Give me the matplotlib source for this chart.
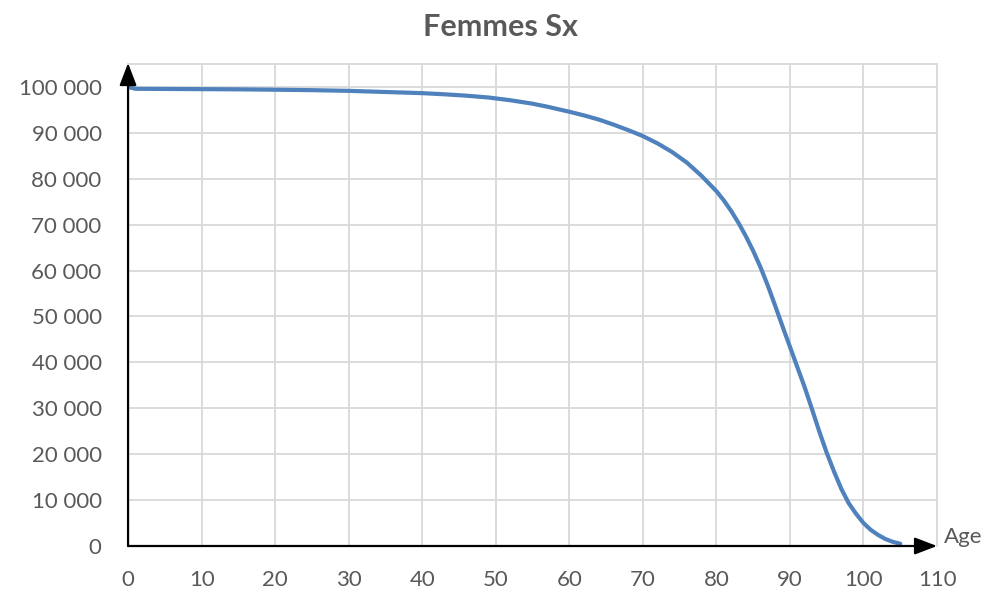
import numpy as np
import matplotlib
matplotlib.use("Agg")
import matplotlib.pyplot as plt
from matplotlib.ticker import FuncFormatter

# survivors (Sx) by age
ages = [0, 1, 5, 10, 15, 20, 25, 30, 35, 40, 43, 46, 49, 52, 55, 57, 60, 62, 64, 66,
        68, 70, 72, 74, 76, 78, 80, 81, 82, 83, 84, 85, 86, 87, 88, 89, 90, 91, 92,
        93, 94, 95, 96, 97, 98, 99, 100, 101, 102, 103, 104, 105]
survivors = [100000, 99600, 99560, 99520, 99480, 99400, 99300, 99150, 98900, 98650,
             98400, 98100, 97700, 97100, 96350, 95700, 94600, 93800, 92900, 91800,
             90600, 89300, 87700, 85800, 83500, 80600, 77300, 75300, 73000, 70400,
             67500, 64300, 60700, 56700, 52300, 47800, 43400, 39000, 34600, 29800,
             24900, 20300, 16200, 12400, 9300, 7000, 5000, 3500, 2400, 1500, 900, 500]

x_ticks = list(range(0, 111, 10))
y_ticks = list(range(0, 100001, 10000))

grey_text = "#595959"
grid_col = "#D9D9D9"
line_col = "#4F81BD"

plt.rcParams['font.family'] = ['Lato', 'DejaVu Sans']

fig = plt.figure(figsize=(9.85, 5.92), dpi=100)
ax = fig.add_axes([0.130, 0.0777, 0.8213, 0.8142])

ax.plot(ages, survivors, color=line_col, lw=3.0, solid_capstyle='round',
        solid_joinstyle='round', zorder=3)

ax.set_xlim(0, 110)
ax.set_ylim(0, 105000)
ax.set_xticks(x_ticks)
ax.set_yticks(y_ticks)
ax.yaxis.set_major_formatter(FuncFormatter(lambda v, p: f"{int(v):,}".replace(",", " ")))
ax.grid(True, color=grid_col, lw=1.3, zorder=0)
ax.tick_params(length=0, labelsize=16, labelcolor=grey_text)
ax.tick_params(axis='x', pad=17)
ax.tick_params(axis='y', pad=19)

for side in ['left', 'bottom']:
    ax.spines[side].set_visible(False)
for side in ['top', 'right']:
    ax.spines[side].set_color(grid_col)
    ax.spines[side].set_linewidth(1.3)

# axes with arrow heads
arrow = dict(arrowstyle='-|>,head_length=0.68,head_width=0.26', color='black',
             lw=1.6, mutation_scale=20, shrinkA=0, shrinkB=0)
ax.annotate('', xy=(1, 0), xytext=(0, 0), xycoords='axes fraction',
            arrowprops=arrow, zorder=4, annotation_clip=False)
ax.annotate('', xy=(0, 1.002), xytext=(0, 0), xycoords='axes fraction',
            arrowprops=arrow, zorder=4, annotation_clip=False)

ax.text(1.009, 0.018, "Age", transform=ax.transAxes, fontsize=16,
        color=grey_text, ha='left', va='center')

fig.text(0.508, 0.955, "Femmes Sx", fontsize=22, fontweight='bold',
         color=grey_text, ha='center', va='center')

fig.savefig("out.png", dpi=100)
